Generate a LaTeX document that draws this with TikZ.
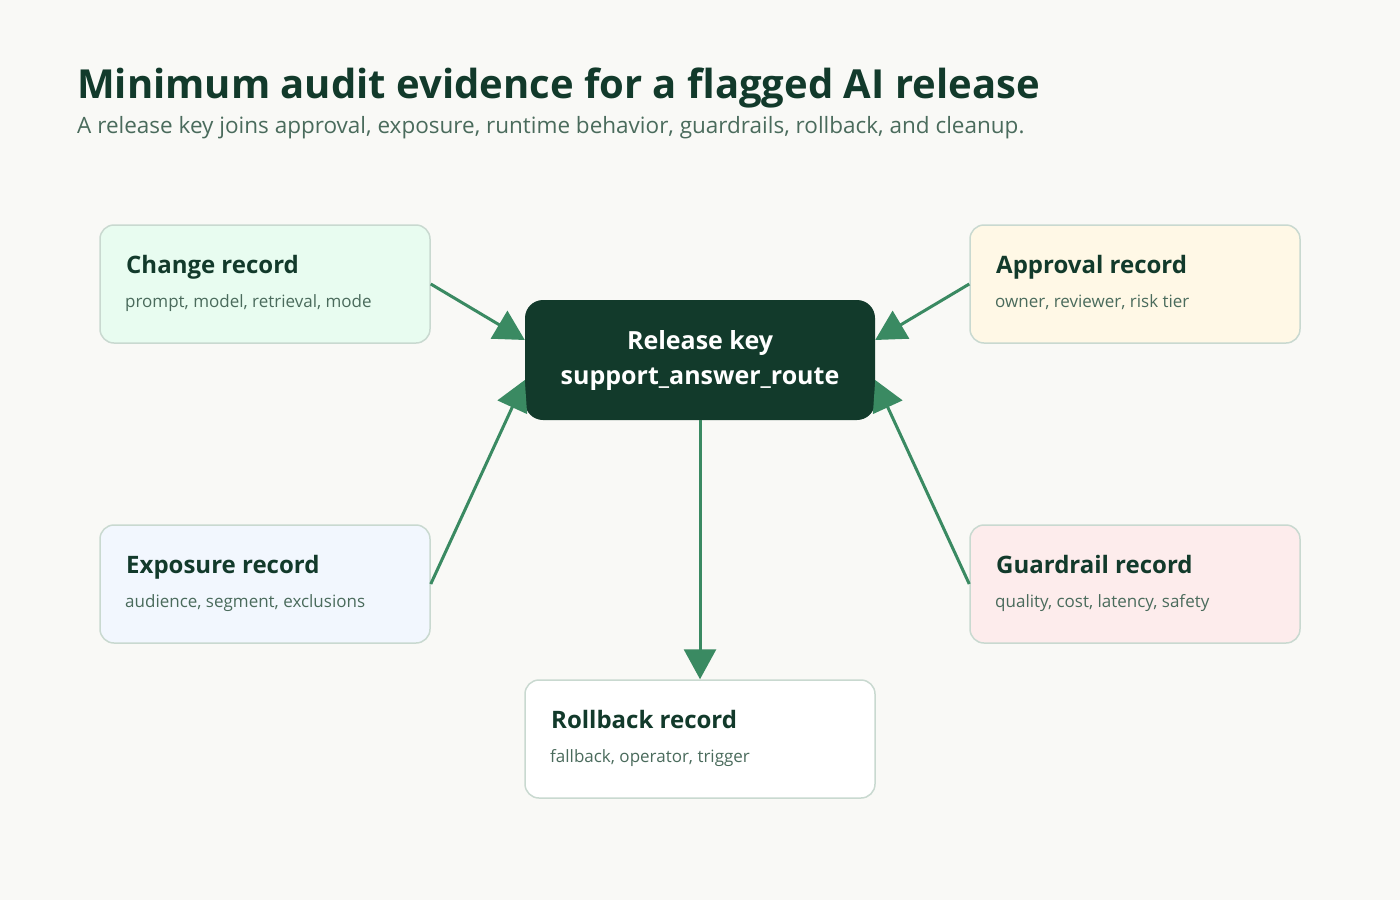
\documentclass[tikz,border=0pt]{standalone}
\usepackage{fontspec}
\setmainfont{Open Sans}
\usetikzlibrary{arrows.meta,calc}
\definecolor{bg}{HTML}{F9F9F6}
\definecolor{dark}{HTML}{123A2B}
\definecolor{sub}{HTML}{4A6B5C}
\definecolor{bord}{HTML}{C9D9D0}
\definecolor{arr}{HTML}{3A8A62}
\definecolor{fchg}{HTML}{E8FCF0}
\definecolor{fapp}{HTML}{FFF8E6}
\definecolor{fexp}{HTML}{F2F7FE}
\definecolor{fgrd}{HTML}{FDECEC}
\begin{document}
\begin{tikzpicture}[x=1pt,y=-1pt,
 box/.style={draw=bord,line width=1.5pt,rounded corners=14pt,minimum width=330pt,minimum height=118pt,inner sep=0pt},
 bt/.style={anchor=base west,text=dark,font=\fontsize{24}{26}\selectfont\bfseries},
 bs/.style={anchor=base west,text=sub,font=\fontsize{17}{19}\selectfont},
 ar/.style={draw=arr,line width=3pt,-{Triangle[length=30pt,width=32pt]}}]
\fill[bg] (0,0) rectangle (1400,900);
\node[anchor=base west,text=dark,font=\fontsize{40}{44}\selectfont\bfseries,inner sep=0pt] (title) at (77,98) {Minimum audit evidence for a flagged AI release};
\node[anchor=base west,text=sub,font=\fontsize{22.5}{24}\selectfont,inner sep=0pt] (subt) at (77,133) {A release key joins approval, exposure, runtime behavior, guardrails, rollback, and cleanup.};
\node[box,fill=fchg] (chg) at (265,284) {};
\node[box,fill=fapp] (app) at (1135,284) {};
\node[box,fill=fexp] (exp) at (265,584) {};
\node[box,fill=fgrd] (grd) at (1135,584) {};
\node[box,fill=white,minimum width=350pt] (rb) at (700,739) {};
\node[draw=none,fill=dark,rounded corners=18pt,minimum width=350pt,minimum height=120pt,align=center,text=white,font=\fontsize{25}{35}\selectfont\bfseries] (key) at (700,360) {Release key\\support\_answer\_route};
\node[bt,inner sep=0pt] (t1) at (126,273) {Change record};
\node[bs,inner sep=0pt] (s1) at (125,307) {prompt, model, retrieval, mode};
\node[bt,inner sep=0pt] (t2) at (996,273) {Approval record};
\node[bs,inner sep=0pt] (s2) at (995,307) {owner, reviewer, risk tier};
\node[bt,inner sep=0pt] (t3) at (126,573) {Exposure record};
\node[bs,inner sep=0pt] (s3) at (125,607) {audience, segment, exclusions};
\node[bt,inner sep=0pt] (t4) at (996,573) {Guardrail record};
\node[bs,inner sep=0pt] (s4) at (995,607) {quality, cost, latency, safety};
\node[bt,inner sep=0pt] (t5) at (551,728) {Rollback record};
\node[bs,inner sep=0pt] (s5) at (550,762) {fallback, operator, trigger};
\coordinate (k1) at ($(key.west)+(0,-20)$);
\coordinate (k2) at ($(key.east)+(0,-20)$);
\coordinate (k3) at ($(key.west)+(0,20)$);
\coordinate (k4) at ($(key.east)+(0,20)$);
\draw[ar] (chg.east) -- (k1);
\draw[ar] (app.west) -- (k2);
\draw[ar] (exp.east) -- (k3);
\draw[ar] (grd.west) -- (k4);
\draw[ar] (key.south) -- (rb.north);
\end{tikzpicture}
\end{document}
